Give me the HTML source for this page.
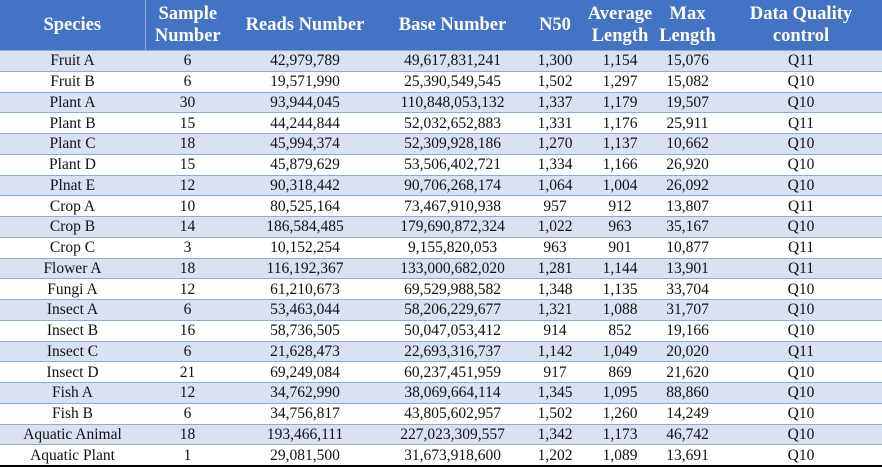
<!DOCTYPE html>
<html><head><meta charset="utf-8"><style>
body{margin:0;width:882px;height:467px;overflow:hidden;background:#fff;font-family:"Liberation Serif",serif;}
table{border-collapse:collapse;width:882px;table-layout:fixed;}
th{background:#4472c4;color:#fff;font-weight:bold;font-size:18.5px;line-height:22px;height:50px;padding:0;white-space:nowrap;}
th:nth-child(2){border-left:1px solid #8eaadb;}
td{font-size:15.5px;text-align:center;padding:0;height:19.75px;line-height:19px;border-top:1px solid #8eaadb;color:#111;white-space:nowrap;overflow:hidden;}
tr:nth-child(odd) td{background:#d9e1f2;}
tr:last-child td{border-bottom:2px solid #000;}
</style></head><body>
<table>
<colgroup><col style="width:145px"><col style="width:85px"><col style="width:150px"><col style="width:145px"><col style="width:60px"><col style="width:70px"><col style="width:65px"><col style="width:162px"></colgroup>
<thead><tr><th>Species</th><th>Sample<br>Number</th><th>Reads Number</th><th>Base Number</th><th>N50</th><th>Average<br>Length</th><th>Max<br>Length</th><th>Data Quality<br>control</th></tr></thead>
<tbody>
<tr><td>Fruit A</td><td>6</td><td>42,979,789</td><td>49,617,831,241</td><td>1,300</td><td>1,154</td><td>15,076</td><td>Q11</td></tr>
<tr><td>Fruit B</td><td>6</td><td>19,571,990</td><td>25,390,549,545</td><td>1,502</td><td>1,297</td><td>15,082</td><td>Q10</td></tr>
<tr><td>Plant A</td><td>30</td><td>93,944,045</td><td>110,848,053,132</td><td>1,337</td><td>1,179</td><td>19,507</td><td>Q10</td></tr>
<tr><td>Plant B</td><td>15</td><td>44,244,844</td><td>52,032,652,883</td><td>1,331</td><td>1,176</td><td>25,911</td><td>Q11</td></tr>
<tr><td>Plant C</td><td>18</td><td>45,994,374</td><td>52,309,928,186</td><td>1,270</td><td>1,137</td><td>10,662</td><td>Q10</td></tr>
<tr><td>Plant D</td><td>15</td><td>45,879,629</td><td>53,506,402,721</td><td>1,334</td><td>1,166</td><td>26,920</td><td>Q10</td></tr>
<tr><td>Plnat E</td><td>12</td><td>90,318,442</td><td>90,706,268,174</td><td>1,064</td><td>1,004</td><td>26,092</td><td>Q10</td></tr>
<tr><td>Crop A</td><td>10</td><td>80,525,164</td><td>73,467,910,938</td><td>957</td><td>912</td><td>13,807</td><td>Q11</td></tr>
<tr><td>Crop B</td><td>14</td><td>186,584,485</td><td>179,690,872,324</td><td>1,022</td><td>963</td><td>35,167</td><td>Q10</td></tr>
<tr><td>Crop C</td><td>3</td><td>10,152,254</td><td>9,155,820,053</td><td>963</td><td>901</td><td>10,877</td><td>Q11</td></tr>
<tr><td>Flower A</td><td>18</td><td>116,192,367</td><td>133,000,682,020</td><td>1,281</td><td>1,144</td><td>13,901</td><td>Q11</td></tr>
<tr><td>Fungi A</td><td>12</td><td>61,210,673</td><td>69,529,988,582</td><td>1,348</td><td>1,135</td><td>33,704</td><td>Q10</td></tr>
<tr><td>Insect A</td><td>6</td><td>53,463,044</td><td>58,206,229,677</td><td>1,321</td><td>1,088</td><td>31,707</td><td>Q10</td></tr>
<tr><td>Insect B</td><td>16</td><td>58,736,505</td><td>50,047,053,412</td><td>914</td><td>852</td><td>19,166</td><td>Q10</td></tr>
<tr><td>Insect C</td><td>6</td><td>21,628,473</td><td>22,693,316,737</td><td>1,142</td><td>1,049</td><td>20,020</td><td>Q11</td></tr>
<tr><td>Insect D</td><td>21</td><td>69,249,084</td><td>60,237,451,959</td><td>917</td><td>869</td><td>21,620</td><td>Q10</td></tr>
<tr><td>Fish A</td><td>12</td><td>34,762,990</td><td>38,069,664,114</td><td>1,345</td><td>1,095</td><td>88,860</td><td>Q10</td></tr>
<tr><td>Fish B</td><td>6</td><td>34,756,817</td><td>43,805,602,957</td><td>1,502</td><td>1,260</td><td>14,249</td><td>Q10</td></tr>
<tr><td>Aquatic Animal</td><td>18</td><td>193,466,111</td><td>227,023,309,557</td><td>1,342</td><td>1,173</td><td>46,742</td><td>Q10</td></tr>
<tr><td>Aquatic Plant</td><td>1</td><td>29,081,500</td><td>31,673,918,600</td><td>1,202</td><td>1,089</td><td>13,691</td><td>Q10</td></tr>
</tbody></table>
</body></html>
